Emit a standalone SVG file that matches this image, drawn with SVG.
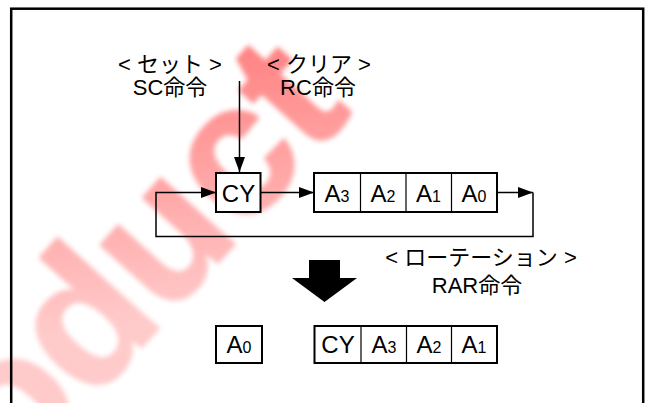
<svg xmlns="http://www.w3.org/2000/svg" width="646" height="403" viewBox="0 0 646 403">
<style>
.box{fill:#fff;stroke:#000;stroke-width:2}
.div{stroke:#000;stroke-width:1.2;fill:none}
.conn{stroke:#000;stroke-width:1.5;fill:none}
.lbl{font-family:"Liberation Sans","Noto Sans CJK JP",sans-serif;font-size:22px;fill:#000;text-anchor:middle}
.bt{font-family:"Liberation Sans",sans-serif;font-size:24px;fill:#000;text-anchor:middle}
.sub{font-size:16px}
</style>
<defs>
<marker id="ah" markerUnits="userSpaceOnUse" markerWidth="16" markerHeight="12" refX="15" refY="5.5" orient="auto">
<path d="M0,0 L15,5.5 L0,11 z" fill="#000"/>
</marker>
<filter id="blur" x="-20%" y="-20%" width="140%" height="140%"><feGaussianBlur stdDeviation="2.5"/></filter>
<linearGradient id="wg" gradientUnits="userSpaceOnUse" x1="20" y1="390" x2="290" y2="70">
<stop offset="0" stop-color="#ffb4b4"/>
<stop offset="1" stop-color="#ff1010"/>
</linearGradient>
</defs>
<rect x="0" y="0" width="646" height="403" fill="#fff"/>

<g id="watermark" opacity="0.7" filter="url(#blur)">
<text x="-117" y="634" transform="rotate(-48 -117 634)" font-family="Liberation Sans,sans-serif" font-weight="bold" font-size="186" fill="url(#wg)" stroke="url(#wg)" stroke-width="3" stroke-linejoin="round">Product</text>
</g>

<rect id="frame" x="11.2" y="8.7" width="632" height="420" fill="none" stroke="#000" stroke-width="2.5"/>

<g id="label-set">
<text class="lbl" x="170" y="72">&lt; セット &gt;</text>
<text class="lbl" x="170" y="95">SC命令</text>
</g>
<g id="label-clear">
<text class="lbl" x="319" y="72">&lt; クリア &gt;</text>
<text class="lbl" x="318" y="95">RC命令</text>
</g>

<g id="connectors">
<path class="conn" d="M239.5,81 V172" marker-end="url(#ah)"/>
<path class="conn" d="M260,192.5 H314" marker-end="url(#ah)"/>
<path class="conn" d="M497,192.5 H533" marker-end="url(#ah)"/>
<path class="conn" d="M533,192.5 V236.5 H156 V192.5 H216" marker-end="url(#ah)"/>
</g>

<g id="cy">
<rect class="box" x="216" y="173" width="44.5" height="39"/>
<text class="bt" x="238.5" y="201.5">CY</text>
</g>

<g id="reg-a">
<rect class="box" x="314" y="173" width="183" height="39"/>
<path class="div" d="M360.5,173 V212 M406,173 V212 M451.5,173 V212"/>
<text class="bt" x="337" y="201.5">A<tspan class="sub">3</tspan></text>
<text class="bt" x="383" y="201.5">A<tspan class="sub">2</tspan></text>
<text class="bt" x="428.5" y="201.5">A<tspan class="sub">1</tspan></text>
<text class="bt" x="474" y="201.5">A<tspan class="sub">0</tspan></text>
</g>

<g id="label-rot">
<text class="lbl" x="481" y="265">&lt; ローテーション &gt;</text>
<text class="lbl" x="477" y="293">RAR命令</text>
</g>

<g id="big-arrow">
<polygon points="309,260 340,260 340,278 357,278 324.5,302 292,278 309,278" fill="#000"/>
</g>

<g id="result-a0">
<rect class="box" x="216" y="326" width="46" height="37"/>
<text class="bt" x="239" y="353">A<tspan class="sub">0</tspan></text>
</g>

<g id="result-reg">
<rect class="box" x="314.5" y="326" width="182.5" height="37"/>
<path class="div" d="M361,326 V363 M406.5,326 V363 M451.5,326 V363"/>
<text class="bt" x="338" y="353">CY</text>
<text class="bt" x="384" y="353">A<tspan class="sub">3</tspan></text>
<text class="bt" x="429" y="353">A<tspan class="sub">2</tspan></text>
<text class="bt" x="474" y="353">A<tspan class="sub">1</tspan></text>
</g>
</svg>
